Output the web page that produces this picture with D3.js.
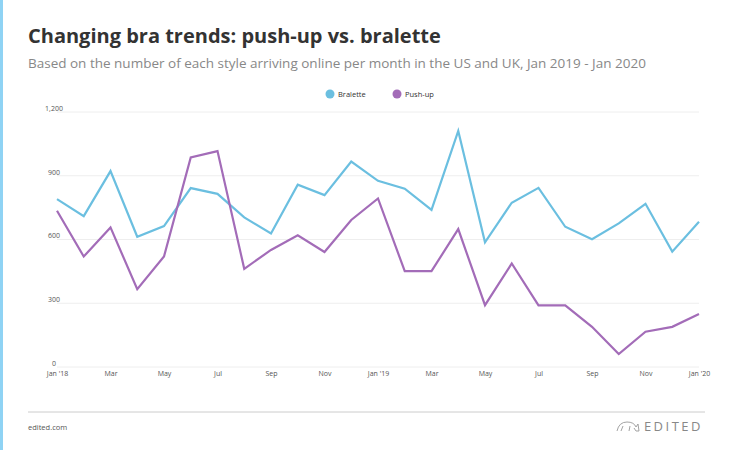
<!DOCTYPE html>
<html lang="en">
<head>
<meta charset="utf-8">
<title>Changing bra trends</title>
<script src="https://cdn.jsdelivr.net/npm/d3@7"></script>
<style>
  body { margin: 0; background: #fff; font-family: "Open Sans", sans-serif; }
  .axis text { font: 7px "Open Sans", sans-serif; fill: #555; }
  .axis path, .axis line { display: none; }
  .grid line { stroke: #eee; }
</style>
</head>
<body>
<svg id="chart" width="750" height="450"></svg>
<script>
var months = ["Jan '18","Feb","Mar","Apr","May","Jun","Jul","Aug","Sep","Oct","Nov","Dec",
              "Jan '19","Feb","Mar","Apr","May","Jun","Jul","Aug","Sep","Oct","Nov","Dec","Jan '20"];
var bralette = [790,710,922,613,663,842,815,704,628,858,809,967,876,839,739,1111,587,773,843,660,601,676,768,543,684];
var pushup = [735,520,657,366,520,986,1016,462,551,620,541,692,793,451,451,649,291,487,290,290,189,61,166,189,249];
var yTicks = [0,300,600,900,1200];

var svg = d3.select('#chart');
var plotLeft = 57, plotRight = 699, plotTop = 112, plotBottom = 367;

svg.append('rect').attr('x',0).attr('y',0).attr('width',3).attr('height',450).attr('fill','#8fd3f4');

svg.append('text').attr('x',28).attr('y',43)
  .style('font','bold 20px "Open Sans", sans-serif').style('fill','#333')
  .text('Changing bra trends: push-up vs. bralette');
svg.append('text').attr('x',28).attr('y',68)
  .style('font','13.5px "Open Sans", sans-serif').style('fill','#888')
  .text('Based on the number of each style arriving online per month in the US and UK, Jan 2019 - Jan 2020');

var x = d3.scalePoint().domain(d3.range(months.length)).range([plotLeft, plotRight]);
var y = d3.scaleLinear().domain([0,1200]).range([plotBottom, plotTop]);

svg.append('g').attr('class','grid')
  .selectAll('line').data(yTicks).enter().append('line')
  .attr('x1',plotLeft).attr('x2',plotRight)
  .attr('y1',function(d){ return y(d); }).attr('y2',function(d){ return y(d); });

svg.append('g').attr('class','axis')
  .attr('transform','translate('+(plotLeft-4)+',-4)')
  .call(d3.axisLeft(y).tickValues(yTicks).tickSize(0).tickFormat(d3.format(',')))
  .selectAll('text').attr('text-anchor','middle').attr('dx',4);

svg.append('g').attr('class','axis')
  .attr('transform','translate(0,'+plotBottom+')')
  .call(d3.axisBottom(x).tickValues(d3.range(0,months.length,2)).tickSize(0)
    .tickFormat(function(i){ return months[i]; }))
  .selectAll('text').attr('dy',6);

var line = d3.line().x(function(d,i){ return x(i); }).y(function(d){ return y(d); });
var series = [{name:'Bralette', values:bralette, color:'#6bbfe0'},
              {name:'Push-up', values:pushup, color:'#a36cb8'}];

svg.selectAll('.series').data(series).enter().append('path')
  .attr('fill','none').attr('stroke-width',2.2)
  .attr('stroke',function(d){ return d.color; })
  .attr('d',function(d){ return line(d.values); });

var leg = svg.selectAll('.leg').data(series).enter().append('g')
  .attr('transform',function(d,i){ return 'translate('+(330+i*67)+',94)'; });
leg.append('circle').attr('r',4.5).attr('fill',function(d){ return d.color; });
leg.append('text').attr('x',8).attr('y',3)
  .style('font','7.5px "Open Sans", sans-serif').style('fill','#333')
  .text(function(d){ return d.name; });

svg.append('line').attr('x1',28).attr('x2',705).attr('y1',412).attr('y2',412)
  .attr('stroke','#ccc').attr('stroke-width',1);
svg.append('text').attr('x',28).attr('y',430)
  .style('font','7.5px "Open Sans", sans-serif').style('fill','#555').text('edited.com');
svg.append('text').attr('x',703).attr('y',431).attr('text-anchor','end')
  .style('font','13px "Open Sans", sans-serif').style('fill','#888').style('letter-spacing','2.5px')
  .text('EDITED');
svg.append('path').attr('d','M617,431 q2,-9 10,-9 q7,0 9,5 l2,-3 l1,7 h-3 l-2,-3 M621,431 l2,-5 M629,431 l1,-5')
  .attr('fill','none').attr('stroke','#999').attr('stroke-width',0.9);
</script>
</body>
</html>
